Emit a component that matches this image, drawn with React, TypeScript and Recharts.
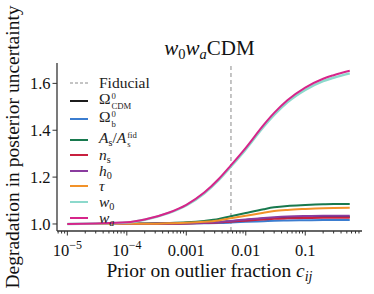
import React from 'react';
import { LineChart, Line, XAxis, YAxis, ReferenceLine, Legend } from 'recharts';

// ---- data ----
const cValues = [1e-5, 3e-5, 1e-4, 2e-4, 5e-4, 1e-3, 2e-3, 3.5e-3, 5.6e-3, 1e-2, 2e-2, 3e-2, 5e-2, 0.1, 0.2, 0.3, 0.56];

const omegaCDM = [1, 1, 1, 1.001, 1.002, 1.003, 1.005, 1.008, 1.012, 1.017, 1.023, 1.026, 1.028, 1.030, 1.031, 1.031, 1.031];
const omegaB = [1, 1, 1, 1, 1.001, 1.002, 1.003, 1.004, 1.006, 1.009, 1.012, 1.014, 1.015, 1.016, 1.017, 1.017, 1.017];
const aS = [1, 1, 1.001, 1.002, 1.004, 1.007, 1.013, 1.021, 1.033, 1.047, 1.063, 1.071, 1.077, 1.081, 1.084, 1.085, 1.085];
const nS = [1, 1, 1, 1, 1.001, 1.002, 1.004, 1.006, 1.010, 1.014, 1.019, 1.022, 1.024, 1.026, 1.027, 1.027, 1.027];
const h0 = [1, 1, 1, 1.001, 1.002, 1.003, 1.005, 1.008, 1.013, 1.019, 1.026, 1.029, 1.032, 1.034, 1.035, 1.035, 1.035];
const tau = [1, 1, 1.001, 1.001, 1.003, 1.005, 1.009, 1.015, 1.024, 1.035, 1.048, 1.055, 1.060, 1.064, 1.067, 1.068, 1.069];
const w0 = [1.000, 1.002, 1.006, 1.018, 1.046, 1.079, 1.130, 1.187, 1.244, 1.318, 1.415, 1.465, 1.519, 1.572, 1.610, 1.624, 1.643];
const wa = [1.000, 1.002, 1.007, 1.019, 1.048, 1.082, 1.134, 1.192, 1.250, 1.325, 1.423, 1.474, 1.528, 1.582, 1.620, 1.635, 1.654];

const fiducialC = 0.00564;

const seriesKeys = ['omegaCDM', 'omegaB', 'aS', 'nS', 'h0', 'tau', 'w0', 'wa'];
const seriesValues = [omegaCDM, omegaB, aS, nS, h0, tau, w0, wa];

const majorTicks = [1e-5, 1e-4, 1e-3, 1e-2, 0.1];
const majorTickBase = ['10', '10', '0.001', '0.01', '0.1'];
const majorTickExp = ['\u22125', '\u22124', '', '', ''];
const yTicks = [1.0, 1.2, 1.4, 1.6];

// ---- styles ----
const seriesColors = ['#1c1c1c', '#3b7dd0', '#18794e', '#c8203f', '#8a3c9f', '#f29229', '#8cd9cc', '#d6258a'];
const seriesWidths = [2, 2, 2, 2, 2, 2, 2.4, 2];
const FONT = '"Liberation Serif", "DejaVu Serif", serif';
const AXIS = '#333333';
const X_DOMAIN: [number, number] = [6.7e-6, 0.9];
const Y_DOMAIN: [number, number] = [0.970, 1.687];

const tableRows = cValues.map((c, i) => {
  const row: Record<string, number> = { c };
  seriesKeys.forEach((k, j) => {
    row[k] = seriesValues[j][i];
  });
  return row;
});

const minorTicks: number[] = [];
for (let k = -6; k <= -1; k++) {
  for (let m = 2; m <= 9; m++) {
    const v = m * Math.pow(10, k);
    if (v > X_DOMAIN[0] && v < X_DOMAIN[1]) minorTicks.push(v);
  }
}
const allXTicks = [...majorTicks, ...minorTicks].sort((a, b) => a - b);

const XTick = (props: any) => {
  const { x, y, payload } = props;
  const v = payload.value;
  const idx = majorTicks.findIndex((t) => Math.abs(Math.log10(t) - Math.log10(v)) < 1e-6);
  const len = idx >= 0 ? 4.5 : 2.5;
  return (
    <g>
      <line x1={x} x2={x} y1={y} y2={y + len} stroke={AXIS} strokeWidth={1} />
      {idx >= 0 && (
        <text x={x} y={y + 25} textAnchor="middle" fontSize={16.5} fontFamily={FONT} fill="#111">
          {majorTickBase[idx]}
          {majorTickExp[idx] && (
            <tspan dy={-7.5} fontSize={12}>
              {majorTickExp[idx]}
            </tspan>
          )}
        </text>
      )}
    </g>
  );
};

const XLabel = (props: any) => {
  const vb = props.viewBox;
  return (
    <text x={vb.x + vb.width / 2} y={vb.y + 46} textAnchor="middle" fontSize={19.5} fontFamily={FONT} fill="#111">
      Prior on outlier fraction{' '}
      <tspan fontStyle="italic">c</tspan>
      <tspan fontStyle="italic" fontSize={14} dy={4}>
        ij
      </tspan>
    </text>
  );
};

const YLabel = (props: any) => {
  const vb = props.viewBox;
  const cx = 19;
  const cy = vb.y + vb.height / 2;
  return (
    <text x={cx} y={cy} transform={`rotate(-90, ${cx}, ${cy})`} textAnchor="middle" fontSize={19.5} fontFamily={FONT} fill="#111">
      Degradation in posterior uncertainty
    </text>
  );
};

const subStyle: React.CSSProperties = { fontSize: '0.66em', verticalAlign: '-0.28em', lineHeight: 0 };
const Sub = ({ children }: { children: React.ReactNode }) => <span style={subStyle}>{children}</span>;
const SupSub = ({ sup, sub }: { sup: string; sub: string }) => (
  <span
    style={{
      display: 'inline-flex',
      flexDirection: 'column',
      fontSize: '0.56em',
      lineHeight: 1.1,
      verticalAlign: '0.6em',
      marginLeft: 1,
    }}
  >
    <span>{sup}</span>
    <span>{sub}</span>
  </span>
);

const legendLabels: React.ReactNode[] = [
  <span>Fiducial</span>,
  <span>
    Ω<SupSub sup="0" sub="CDM" />
  </span>,
  <span>
    Ω<SupSub sup="0" sub="b" />
  </span>,
  <span>
    <i>A</i>
    <Sub>s</Sub>/<i>A</i>
    <SupSub sup="fid" sub="s" />
  </span>,
  <span>
    <i>n</i>
    <Sub>s</Sub>
  </span>,
  <span>
    <i>h</i>
    <Sub>0</Sub>
  </span>,
  <span>
    <i>τ</i>
  </span>,
  <span>
    <i>w</i>
    <Sub>0</Sub>
  </span>,
  <span>
    <i>w</i>
    <Sub>
      <i>a</i>
    </Sub>
  </span>,
];
const legendRowCenters = [82.8, 101.2, 119.3, 139.8, 154.6, 170.6, 186.1, 201.6, 217.5];
const LEGEND_LEFT = 70;

const renderLegend = () => (
  <div style={{ position: 'relative', fontFamily: FONT, fontSize: 15.5, color: '#222' }}>
    {legendLabels.map((lab, i) => {
      const isFid = i === 0;
      const color = isFid ? '#8a8a8a' : seriesColors[i - 1];
      return (
        <div
          key={i}
          style={{
            position: 'absolute',
            left: 0,
            top: legendRowCenters[i] - 10,
            height: 20,
            display: 'flex',
            alignItems: 'center',
            whiteSpace: 'nowrap',
          }}
        >
          <svg width={18} height={4} style={{ marginRight: 11, overflow: 'visible' }}>
            <line
              x1={0}
              x2={18}
              y1={2}
              y2={2}
              stroke={color}
              strokeWidth={isFid ? 1 : 2}
              strokeDasharray={isFid ? '3 2' : undefined}
            />
          </svg>
          <span style={{ lineHeight: 1 }}>{lab}</span>
        </div>
      );
    })}
  </div>
);

export default function App() {
  return (
    <div style={{ position: 'absolute', left: 0, top: 0, width: 374, height: 294, background: '#fff' }}>
      <svg
        width={374}
        height={62}
        style={{ position: 'absolute', left: 0, top: 0, pointerEvents: 'none' }}
      >
        <text x={209.5} y={55} textAnchor="middle" fontSize={21} fontFamily={FONT} fill="#111">
          <tspan fontStyle="italic">w</tspan>
          <tspan fontSize={14.5} dy={4}>0</tspan>
          <tspan fontStyle="italic" dy={-4}>w</tspan>
          <tspan fontStyle="italic" fontSize={14.5} dy={4}>a</tspan>
          <tspan dy={-4}>CDM</tspan>
        </text>
      </svg>
      <LineChart width={374} height={294} data={tableRows} margin={{ top: 63, right: 12, bottom: 0, left: 0 }}>
        <XAxis
          dataKey="c"
          type="number"
          scale="log"
          domain={X_DOMAIN}
          allowDataOverflow
          ticks={allXTicks}
          interval={0}
          tick={<XTick />}
          tickLine={false}
          tickSize={0}
          tickMargin={0}
          height={63}
          axisLine={{ stroke: AXIS, strokeWidth: 1.3 }}
          label={{ content: <XLabel /> }}
        />
        <XAxis
          xAxisId="top"
          orientation="top"
          dataKey="c"
          type="number"
          scale="log"
          domain={X_DOMAIN}
          allowDataOverflow
          height={0}
          tick={false}
          tickLine={false}
          axisLine={{ stroke: AXIS, strokeWidth: 1.3 }}
        />
        <YAxis
          type="number"
          domain={Y_DOMAIN}
          allowDataOverflow
          ticks={yTicks}
          interval={0}
          tickFormatter={(v: number) => v.toFixed(1)}
          tick={{ fontSize: 16.5, fontFamily: FONT, fill: '#111' }}
          tickSize={4.5}
          tickMargin={2}
          tickLine={{ stroke: AXIS, strokeWidth: 1 }}
          width={57}
          axisLine={{ stroke: AXIS, strokeWidth: 1.3 }}
          label={{ content: <YLabel /> }}
        />
        <YAxis
          yAxisId="right"
          orientation="right"
          type="number"
          domain={Y_DOMAIN}
          allowDataOverflow
          width={0}
          tick={false}
          tickLine={false}
          axisLine={{ stroke: AXIS, strokeWidth: 1.3 }}
        />
        <ReferenceLine x={fiducialC} stroke="#8a8a8a" strokeWidth={1} strokeDasharray="4 3" />
        {seriesKeys.map((k, i) => (
          <Line
            key={k}
            dataKey={k}
            type="monotone"
            stroke={seriesColors[i]}
            strokeWidth={seriesWidths[i]}
            dot={false}
            isAnimationActive={false}
          />
        ))}
        <Legend
          layout="vertical"
          align="center"
          verticalAlign="middle"
          content={renderLegend}
          wrapperStyle={{ left: LEGEND_LEFT, top: 0, width: 130, height: 0 }}
        />
      </LineChart>
    </div>
  );
}
